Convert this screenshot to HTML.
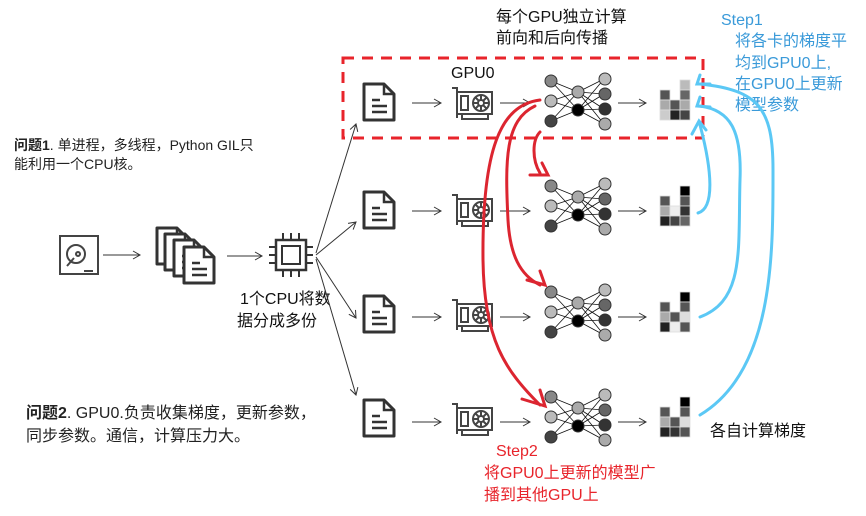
<!DOCTYPE html>
<html><head><meta charset="utf-8"><style>
html,body{margin:0;padding:0;background:#fff}
svg{display:block}
text{font-family:"Liberation Sans","Noto Sans CJK SC",sans-serif}
</style></head><body>
<svg width="866" height="516" viewBox="0 0 866 516" xmlns="http://www.w3.org/2000/svg">
<defs>
<marker id="ah" markerWidth="10" markerHeight="10" refX="8" refY="5" orient="auto" markerUnits="userSpaceOnUse">
<path d="M1,1 L8,5 L1,9" fill="none" stroke="#333" stroke-width="1"/></marker>
<g id="doc"><path d="M2,2 H22 L32,12 V38 H2 Z" fill="#fff" stroke="#333" stroke-width="3" stroke-linejoin="round"/>
<path d="M22,2 V12 H32" fill="none" stroke="#333" stroke-width="2.5"/>
<path d="M10,18 H18 M10,24 H25 M10,30 H25" stroke="#333" stroke-width="2.5"/></g>
<g id="gpu" fill="none" stroke="#444" stroke-width="2">
<path d="M0,2 H5 V32 M5,6 H40 V28 H5"/><rect x="9" y="10" width="7" height="14"/>
<circle cx="29" cy="17" r="8"/><circle cx="29" cy="17" r="3"/>
<path d="M29,9 V14 M29,20 V25 M21,17 H26 M32,17 H37 M23,11 L27,15 M31,19 L35,23 M35,11 L31,15 M27,19 L23,23"/>
<path d="M10,28 V33 H36 V28"/></g>
<g id="nn">
<g stroke="#111" stroke-width="0.8" fill="none">
<path d="M6,-20 L33,-9 M6,-20 L33,9 M6,0 L33,-9 M6,0 L33,9 M6,20 L33,-9 M6,20 L33,9"/>
<path d="M33,-9 L59,-22 M33,-9 L59,-7 M33,-9 L59,8 M33,-9 L59,23 M33,9 L59,-22 M33,9 L59,-7 M33,9 L59,8 M33,9 L59,23"/></g>
<circle cx="6" cy="-20" r="6" fill="#888" stroke="#333"/><circle cx="6" cy="0" r="6" fill="#bbb" stroke="#333"/><circle cx="6" cy="20" r="6" fill="#444" stroke="#333"/>
<circle cx="33" cy="-9" r="6" fill="#aaa" stroke="#333"/><circle cx="33" cy="9" r="6" fill="#000" stroke="#333"/>
<circle cx="60" cy="-22" r="6" fill="#bbb" stroke="#333"/><circle cx="60" cy="-7" r="6" fill="#666" stroke="#333"/><circle cx="60" cy="8" r="6" fill="#333" stroke="#333"/><circle cx="60" cy="23" r="6" fill="#aaa" stroke="#333"/>
</g>
</defs>
<g font-size="16" fill="#111">
<text x="496" y="22">每个GPU独立计算</text><text x="496" y="43">前向和后向传播</text>
<text x="451" y="78">GPU0</text>
<text x="240" y="304">1个CPU将数</text><text x="237" y="326">据分成多份</text>
<text x="710" y="436">各自计算梯度</text>
</g>
<g font-size="14" fill="#222">
<text x="14" y="150"><tspan font-weight="bold">问题1</tspan>. 单进程，多线程，Python GIL只</text>
<text x="14" y="169">能利用一个CPU核。</text>
</g>
<g font-size="16" fill="#222">
<text x="26" y="418"><tspan font-weight="bold">问题2</tspan>. GPU0.负责收集梯度，更新参数，</text>
<text x="26" y="441">同步参数。通信，计算压力大。</text>
</g>
<g font-size="16" fill="#3a9ad9">
<text x="721" y="25">Step1</text><text x="735" y="46">将各卡的梯度平</text><text x="735" y="68">均到GPU0上,</text><text x="735" y="89">在GPU0上更新</text><text x="735" y="110">模型参数</text>
</g>
<g font-size="16" fill="#e8242b">
<text x="496" y="456">Step2</text><text x="484" y="478">将GPU0上更新的模型广</text><text x="484" y="500">播到其他GPU上</text>
</g>
<g fill="none" stroke="#444" stroke-width="2">
<rect x="60" y="236" width="38" height="38"/><circle cx="76" cy="254" r="9"/><circle cx="78" cy="254" r="2"/><path d="M74,258 L67,266 M84,271 H93"/>
</g>
<use href="#doc" x="155" y="226"/><use href="#doc" x="163" y="232"/><use href="#doc" x="172" y="238"/><use href="#doc" x="182" y="245"/>
<g fill="none" stroke="#333" stroke-width="2.5"><rect x="276" y="240" width="30" height="30"/><rect x="282" y="246" width="18" height="18" stroke-width="2"/>
<path d="M283,240 V233 M291,240 V233 M299,240 V233 M283,270 V277 M291,270 V277 M299,270 V277 M276,247 H269 M276,255 H269 M276,263 H269 M306,247 H313 M306,255 H313 M306,263 H313" stroke-width="2"/></g>
<g stroke="#333" stroke-width="1" fill="none" marker-end="url(#ah)">
<path d="M103,255 H140"/><path d="M227,256 H262"/>
<path d="M316,253 L356,124"/><path d="M316,255 L356,222"/><path d="M316,257 L356,318"/><path d="M316,259 L356,395"/>
</g>
<g>
<g><use href="#doc" x="362" y="82"/><use href="#gpu" x="452" y="86"/><use href="#nn" x="545" y="101"/></g>
<g transform="translate(0,105)"><use href="#doc" x="362" y="85"/><use href="#gpu" x="452" y="88"/><use href="#nn" x="545" y="101"/></g>
<g transform="translate(0,211)"><use href="#doc" x="362" y="83"/><use href="#gpu" x="452" y="87"/><use href="#nn" x="545" y="101"/></g>
<g transform="translate(0,316)"><use href="#doc" x="362" y="82"/><use href="#gpu" x="452" y="86"/><use href="#nn" x="545" y="101"/></g>
</g>
<g stroke="#333" stroke-width="1" fill="none" marker-end="url(#ah)">
<path d="M412,103 H441"/><path d="M500,103 H530"/><path d="M618,103 H646"/>
<path d="M412,211 H441"/><path d="M500,211 H530"/><path d="M618,211 H646"/>
<path d="M412,317 H441"/><path d="M500,317 H530"/><path d="M618,317 H646"/>
<path d="M412,422 H441"/><path d="M500,422 H530"/><path d="M618,422 H646"/>
</g>
<g stroke="#ddd" stroke-width="0.8">
<rect x="660" y="90" width="10" height="10" fill="#555"/><rect x="660" y="100" width="10" height="10" fill="#aaa"/><rect x="660" y="110" width="10" height="10" fill="#ccc"/>
<rect x="670" y="100" width="10" height="10" fill="#555"/><rect x="670" y="110" width="10" height="10" fill="#222"/>
<rect x="680" y="80" width="10" height="10" fill="#bbb"/><rect x="680" y="90" width="10" height="10" fill="#666"/><rect x="680" y="100" width="10" height="10" fill="#aaa"/><rect x="680" y="110" width="10" height="10" fill="#444"/>
<rect x="660" y="196" width="10" height="10" fill="#555"/><rect x="660" y="206" width="10" height="10" fill="#aaa"/><rect x="660" y="216" width="10" height="10" fill="#222"/>
<rect x="670" y="206" width="10" height="10" fill="#eee"/><rect x="670" y="216" width="10" height="10" fill="#444"/>
<rect x="680" y="186" width="10" height="10" fill="#000"/><rect x="680" y="196" width="10" height="10" fill="#555"/><rect x="680" y="206" width="10" height="10" fill="#333"/><rect x="680" y="216" width="10" height="10" fill="#666"/>
<rect x="660" y="302" width="10" height="10" fill="#555"/><rect x="660" y="312" width="10" height="10" fill="#aaa"/><rect x="660" y="322" width="10" height="10" fill="#222"/>
<rect x="670" y="312" width="10" height="10" fill="#555"/><rect x="670" y="322" width="10" height="10" fill="#eee"/>
<rect x="680" y="292" width="10" height="10" fill="#000"/><rect x="680" y="302" width="10" height="10" fill="#555"/><rect x="680" y="312" width="10" height="10" fill="#ddd"/><rect x="680" y="322" width="10" height="10" fill="#555"/>
<rect x="660" y="407" width="10" height="10" fill="#555"/><rect x="660" y="417" width="10" height="10" fill="#aaa"/><rect x="660" y="427" width="10" height="10" fill="#222"/>
<rect x="670" y="417" width="10" height="10" fill="#555"/><rect x="670" y="427" width="10" height="10" fill="#333"/>
<rect x="680" y="397" width="10" height="10" fill="#000"/><rect x="680" y="407" width="10" height="10" fill="#555"/><rect x="680" y="417" width="10" height="10" fill="#ddd"/><rect x="680" y="427" width="10" height="10" fill="#555"/>
</g>
<rect x="343" y="58" width="360" height="80" fill="none" stroke="#e8242b" stroke-width="3" stroke-dasharray="11,8"/>
<g fill="none" stroke="#dc2530" stroke-width="3" stroke-linecap="round">
<path d="M540,100 C500,105 482,150 483,260 C484,340 505,370 540,405"/>
<path d="M535,106 C505,120 505,160 508,220 C510,255 520,275 540,285"/>
<path d="M540,132 C532,140 532,160 540,173"/>
<path d="M530,175 L548,175 L542,163"/>
<path d="M527,280 L545,285 L540,271"/>
<path d="M522,399 L545,406 L540,390"/>
</g>
<g fill="none" stroke="#5bc8f5" stroke-width="3" stroke-linecap="round">
<path d="M698,213 C715,208 712,170 700,125"/>
<path d="M700,317 C745,300 738,250 740,180 C742,130 730,110 700,106"/>
<path d="M700,415 C775,370 773,250 773,170 C773,110 760,90 700,84"/>
<path d="M692,134 L699,121 L706,130"/>
<path d="M700,97 L697,106 L710,107"/>
<path d="M700,75 L697,84 L710,84"/>
</g>
</svg>
</body></html>
